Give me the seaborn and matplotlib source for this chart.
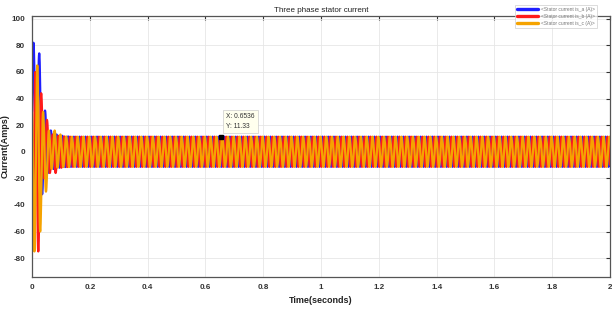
import numpy as np
import pandas as pd
import matplotlib
matplotlib.use("Agg")
import matplotlib.pyplot as plt
import seaborn as sns
from matplotlib.lines import Line2D

# ---- data ----
freq_hz = 50.0
t_end = 2.0
steady_amp = 11.33

series_names = ["<Stator current is_a (A)>", "<Stator current is_b (A)>", "<Stator current is_c (A)>"]
series_colors = ["#1f1fff", "#ff1a1a", "#f5a300"]

# value at t = 0, time of first extremum, then successive extrema (half-cycle apart) during start-up
start_a = 30.0
first_t_a = 0.005
extrema_a = [82, -8, 74, -32, 31, -16, 16, -13, 13, -12, 12, -11.5, 11.5]

start_b = 0.0
first_t_b = 0.0017
extrema_b = [-70, 60, -75, 44, -20, 24, -16, 13, -16, 12, -12, 11.5, -11.5]

start_c = 30.0
first_t_c = 0.0083
extrema_c = [-75, 65, -60, 30, -30, 16, -13, 16, -12, 13, -11.5, 11.5, -11.5]

xticks = [0, 0.2, 0.4, 0.6, 0.8, 1.0, 1.2, 1.4, 1.6, 1.8, 2.0]
xtick_labels = ["0", "0.2", "0.4", "0.6", "0.8", "1", "1.2", "1.4", "1.6", "1.8", "2"]
yticks = [-80, -60, -40, -20, 0, 20, 40, 60, 80, 100]

tip_x = 0.6536
tip_y = 11.33


def build_wave(start, first_t, extrema):
    half = 0.5 / freq_hz
    times = [0.0]
    vals = [start]
    t = first_t
    for v in extrema:
        times.append(t)
        vals.append(v)
        t += half
    sign = -1.0 if extrema[-1] > 0 else 1.0
    while t <= t_end + half:
        times.append(t)
        vals.append(sign * steady_amp)
        sign = -sign
        t += half
    times = np.array(times)
    vals = np.array(vals)
    # smooth (half-cosine) shape between successive extrema
    n_sub = 12
    ts, vs = [], []
    for i in range(len(times) - 1):
        u = np.linspace(0, 1, n_sub, endpoint=False)
        w = (1 - np.cos(np.pi * u)) / 2
        ts.append(times[i] + (times[i + 1] - times[i]) * u)
        vs.append(vals[i] + (vals[i + 1] - vals[i]) * w)
    return np.concatenate(ts), np.concatenate(vs)


frames = []
for name, (s, ft, ex) in zip(series_names, [(start_a, first_t_a, extrema_a),
                                            (start_b, first_t_b, extrema_b),
                                            (start_c, first_t_c, extrema_c)]):
    tt, vv = build_wave(s, ft, ex)
    frames.append(pd.DataFrame({"Time": tt, "Current": vv, "Signal": name}))
df = pd.concat(frames, ignore_index=True)

# ---- figure ----
sns.set_theme(style="white")
plt.rcParams["font.family"] = ["Liberation Sans", "DejaVu Sans"]
plt.rcParams["axes.unicode_minus"] = False

fig = plt.figure(figsize=(6.12, 3.09), dpi=100)
ax = fig.add_axes([0.0523, 0.1045, 0.9444, 0.8445])

sns.lineplot(data=df, x="Time", y="Current", hue="Signal", palette=series_colors,
             hue_order=series_names, estimator=None, sort=False, linewidth=1.6,
             ax=ax, legend=False)

ax.set_xlim(0, 2)
ax.set_ylim(-94, 102.3)
ax.set_xticks(xticks)
ax.set_xticklabels(xtick_labels)
ax.set_yticks(yticks)
ax.grid(True, color="#e6e6e6", linewidth=0.6)
ax.set_axisbelow(True)
ax.tick_params(axis="both", which="both", direction="in", length=3, width=0.8,
               colors="#333333", labelsize=5.8, top=True, right=True, pad=5)
for lab in ax.get_xticklabels() + ax.get_yticklabels():
    lab.set_fontweight("bold")
for sp in ax.spines.values():
    sp.set_color("#555555")
    sp.set_linewidth(0.9)

ax.set_title("Three phase stator current", fontsize=5.8, color="#222222", pad=3)
ax.set_xlabel("Time(seconds)", fontsize=6.5, fontweight="bold", color="#222222", labelpad=4)
ax.set_ylabel("Current(Amps)", fontsize=6.5, fontweight="bold", color="#222222", labelpad=1)

# legend
handles = [Line2D([0], [0], color=c, lw=2.4) for c in series_colors]
leg = fig.legend(handles, series_names, loc="upper right", bbox_to_anchor=(0.979, 0.992),
                 fontsize=3.5, frameon=True, handlelength=4.3, handletextpad=0.6,
                 borderpad=0.45, labelspacing=0.4, fancybox=False)
leg.get_frame().set_edgecolor("#cccccc")
leg.get_frame().set_linewidth(0.6)
for t in leg.get_texts():
    t.set_color("#777777")

# data tip
ax.plot([tip_x], [tip_y], marker="s", color="black", markersize=3.2, zorder=10)
ax.annotate(f"X: {tip_x}\nY: {tip_y}", xy=(tip_x, tip_y), xytext=(4, 5),
            textcoords="offset points", fontsize=4.8, color="#333333",
            ha="left", va="bottom", zorder=11, linespacing=1.5,
            bbox=dict(boxstyle="square,pad=0.45", fc="#ffffee", ec="#cccccc", lw=0.5))

fig.savefig("out.png", dpi=100)
